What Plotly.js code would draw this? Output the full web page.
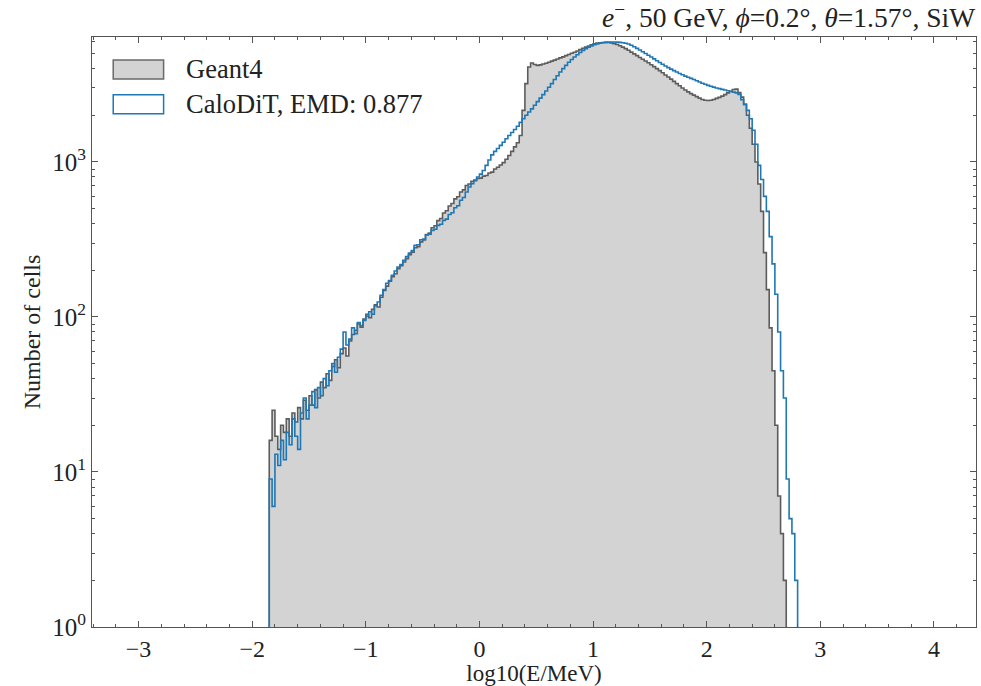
<!DOCTYPE html>
<html><head><meta charset="utf-8">
<script src="https://cdn.plot.ly/plotly-3.0.1.min.js"></script>
<style>body{margin:0;background:#fff}#chart{width:981px;height:686px}</style>
</head><body><div id="chart"></div>
<script>
// ---- data ----
const binStart = -1.85;
const binWidth = 0.025;
const geant4Counts = [
16,25,17,14,20,18,22,17,24,21,
26,22,29,25,31,27,34,30,38,35,
43,39,48,53,47,58,63,56,70,77,
82,90,86,97,104,99,112,120,116,134,
148,158,170,182,190,205,214,226,238,252,
262,280,284,305,314,340,348,376,388,418,
432,468,484,520,540,578,596,640,660,705,
720,750,758,782,786,810,818,848,860,900,
925,955,990,1040,1100,1170,1250,1330,1480,2150,
3200,4100,4350,4250,4200,4230,4280,4330,4400,4470,
4540,4610,4690,4760,4850,4930,5020,5100,5200,5300,
5400,5500,5600,5700,5780,5840,5880,5900,5910,5890,
5860,5800,5720,5620,5500,5380,5250,5110,4980,4850,
4720,4600,4480,4360,4240,4120,4000,3880,3760,3640,
3530,3420,3310,3200,3100,3000,2910,2830,2760,2700,
2640,2580,2530,2500,2490,2500,2530,2570,2610,2660,
2720,2790,2860,2930,2950,2800,2620,2350,2000,1650,
1300,1000,720,480,260,150,85,45,20,7,
4,2,0,0,0,0];
const caloditCounts = [
9,6,13,11,16,12,18,15,22,17,
14,24,30,22,27,33,26,35,31,40,
36,45,50,44,55,62,80,66,72,85,
78,92,88,95,101,108,104,118,125,138,
150,165,172,186,198,210,218,232,245,258,
268,290,292,315,318,338,342,362,368,390,
396,420,428,458,470,506,522,566,590,640,
690,725,765,800,835,880,950,1030,1110,1170,
1220,1280,1340,1410,1480,1550,1620,1700,1800,1900,
2000,2100,2200,2320,2450,2580,2720,2870,3030,3200,
3400,3600,3800,4000,4200,4400,4580,4750,4920,5080,
5230,5370,5500,5610,5700,5780,5840,5880,5910,5930,
5940,5940,5930,5910,5880,5830,5760,5660,5540,5400,
5270,5140,5010,4880,4750,4620,4500,4380,4270,4160,
4060,3970,3880,3800,3720,3650,3580,3520,3460,3400,
3340,3280,3220,3170,3120,3080,3040,3000,2970,2940,
2910,2880,2850,2820,2790,2730,2520,2350,2150,1900,
1600,1300,950,770,600,480,330,220,140,80,
45,30,9,5,4,2];
const seriesNames = ["Geant4", "CaloDiT, EMD: 0.877"];
const chartTitle = "<i>e</i><sup>\u2212</sup>, 50 GeV, <i>\u03d5</i>=0.2\u00b0, <i>\u03b8</i>=1.57\u00b0, SiW";
const xTitle = "log10(E/MeV)";
const yTitle = "Number of cells";
const xTickVals = [-3,-2,-1,0,1,2,3,4];
const yTickVals = [1,10,100,1000];
const yTickText = ["10<sup>0</sup>","10<sup>1</sup>","10<sup>2</sup>","10<sup>3</sup>"];

// ---- build step outlines ----
const baseline = 0.1; // below the axis floor so the end edges run to the bottom
function stepOutline(counts){
  let first = 0; while (first < counts.length && counts[first] <= 0) first++;
  let last = counts.length - 1; while (last >= 0 && counts[last] <= 0) last--;
  const edge = i => +(binStart + i * binWidth).toFixed(4);
  const xs = [edge(first)], ys = [baseline];
  for (let i = first; i <= last; i++) { xs.push(edge(i)); ys.push(counts[i]); }
  xs.push(edge(last + 1)); ys.push(counts[last]);
  xs.push(edge(last + 1)); ys.push(baseline);
  return {xs, ys};
}
const g = stepOutline(geant4Counts);
const c = stepOutline(caloditCounts);

const serif = "Liberation Serif, DejaVu Serif, serif";
const traces = [
  {type:'scatter', mode:'lines', x:g.xs, y:g.ys, line:{shape:'hv', color:'#5c5c5c', width:1.6},
   fill:'toself', fillcolor:'#d3d3d3', showlegend:false, hoverinfo:'skip'},
  {type:'scatter', mode:'lines', x:c.xs, y:c.ys, line:{shape:'hv', color:'#1f77b4', width:1.6},
   showlegend:false, hoverinfo:'skip'}
];

const minorY = [];
for (const d of [1,10,100,1000]) for (let m = 2; m <= 9; m++) minorY.push(d*m);

// legend drawn by hand (matplotlib-style boxes)
const legendStyles = [
  {fill:'#d3d3d3', line:'#6a6a6a'},
  {fill:'#ffffff', line:'#1f77b4'}
];
const legY = [0.945, 0.886];
const shapes = [], annotations = [];
seriesNames.forEach((name, k) => {
  shapes.push({type:'rect', xref:'x domain', yref:'y domain',
    x0:0.024, x1:0.081, y0:legY[k]-0.016, y1:legY[k]+0.016,
    fillcolor:legendStyles[k].fill, line:{color:legendStyles[k].line, width:1.5}});
  annotations.push({xref:'x domain', yref:'y domain', x:0.104, y:legY[k], xanchor:'left', yanchor:'middle',
    text:name, showarrow:false, font:{family:serif, size:26.5, color:'#222'}});
});

const axisCommon = {
  showline:true, linecolor:'#555', linewidth:1, mirror:'ticks', ticks:'inside',
  ticklen:6, tickwidth:1, tickcolor:'#555', showgrid:false, zeroline:false,
  tickfont:{family:serif, size:25, color:'#222'}
};
const layout = {
  width:981, height:686, paper_bgcolor:'#fff', plot_bgcolor:'#fff',
  margin:{l:92, r:5, t:37, b:59},
  title:{text:chartTitle, x:0.994, xanchor:'right', xref:'container', y:0.974, yref:'container', yanchor:'middle',
    font:{family:serif, size:27.5, color:'#222'}},
  xaxis:Object.assign({}, axisCommon, {
    range:[-3.41, 4.37], tickvals:xTickVals,
    tickfont:{family:serif, size:24, color:'#222'},
    minor:{dtick:0.2, tick0:0, ticks:'inside', ticklen:3, tickcolor:'#555', showgrid:false},
    title:{text:xTitle, standoff:5, font:{family:serif, size:23, color:'#222'}}
  }),
  yaxis:Object.assign({}, axisCommon, {
    type:'log', range:[0, 3.806], tickvals:yTickVals, ticktext:yTickText,
    minor:{tickvals:minorY, ticks:'inside', ticklen:3, tickcolor:'#555', showgrid:false},
    title:{text:yTitle, standoff:4, font:{family:serif, size:24, color:'#222'}}
  }),
  shapes, annotations, showlegend:false
};
Plotly.newPlot('chart', traces, layout, {displayModeBar:false, staticPlot:true});
</script>
</body></html>
